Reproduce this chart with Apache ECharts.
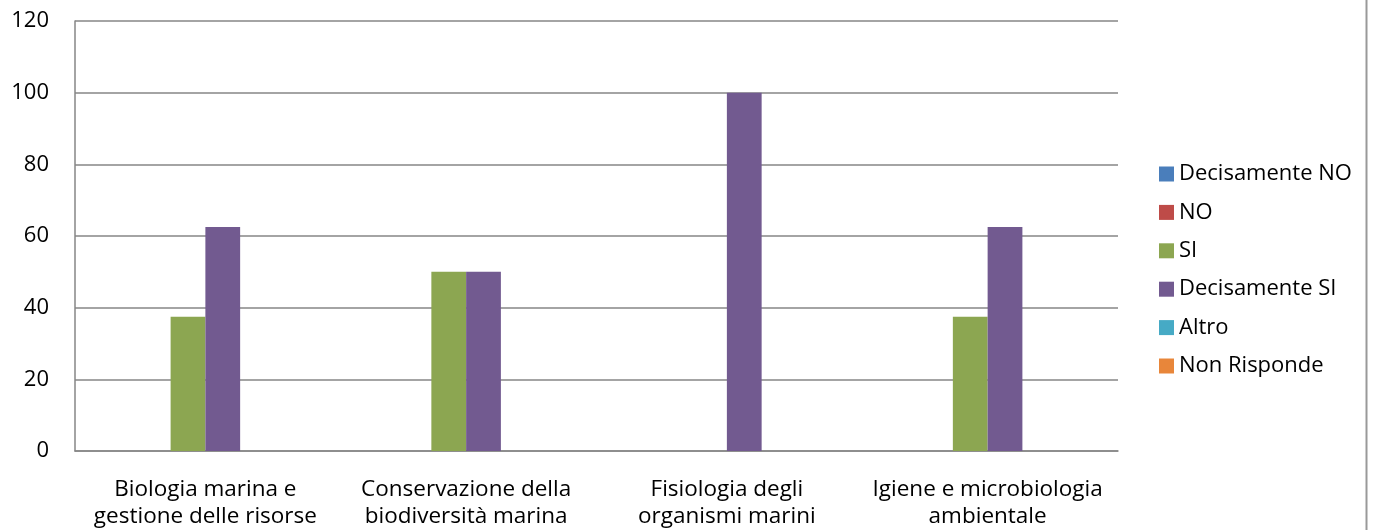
<!DOCTYPE html>
<html>
<head>
<meta charset="utf-8">
<style>
  html, body { margin: 0; padding: 0; background: #fff; }
  #chart { width: 1373px; height: 530px; }
</style>
<script src="https://cdn.jsdelivr.net/npm/echarts@6/dist/echarts.min.js"></script>
</head>
<body>
<div id="chart"></div>
<script>
// dati del grafico
var categories = [
  'Biologia marina e\ngestione delle risorse',
  'Conservazione della\nbiodiversità marina',
  'Fisiologia degli\norganismi marini',
  'Igiene e microbiologia\nambientale'
]
var seriesNames = ['Decisamente NO', 'NO', 'SI', 'Decisamente SI', 'Altro', 'Non Risponde']
var decisamenteNo = [0, 0, 0, 0]
var no = [0, 0, 0, 0]
var si = [37.5, 50, 0, 37.5]
var decisamenteSi = [62.5, 50, 100, 62.5]
var altro = [0, 0, 0, 0]
var nonRisponde = [0, 0, 0, 0]
var yTicks = [0, 20, 40, 60, 80, 100, 120]

var colors = ['#4A7EBB', '#BE4B48', '#8CA651', '#725A90', '#46AAC5', '#E8863A']
var values = [decisamenteNo, no, si, decisamenteSi, altro, nonRisponde]
var font = 'Open Sans'

var myChart = echarts.init(document.getElementById('chart'))
myChart.setOption({
  animation: false,
  color: colors,
  textStyle: { fontFamily: font },
  grid: {
    left: 75,
    right: 255,
    top: 21,
    bottom: 79,
    containLabel: false
  },
  legend: {
    orient: 'vertical',
    left: 1154,
    top: 158,
    itemWidth: 15,
    itemHeight: 15,
    itemGap: 16.4,
    icon: 'rect',
    textStyle: { fontFamily: font, fontSize: 22, color: '#000' },
    data: seriesNames
  },
  xAxis: {
    type: 'category',
    data: categories,
    axisTick: { show: false },
    axisLine: { lineStyle: { color: '#868686', width: 1.5 } },
    axisLabel: {
      color: '#000',
      fontFamily: font,
      fontSize: 22.5,
      lineHeight: 27,
      margin: 25,
      interval: 0
    }
  },
  yAxis: {
    type: 'value',
    min: yTicks[0],
    max: yTicks[yTicks.length - 1],
    interval: yTicks[1] - yTicks[0],
    axisLine: { show: true, lineStyle: { color: '#868686', width: 1.5 } },
    axisTick: { show: false },
    splitLine: { lineStyle: { color: '#868686', width: 1.5 } },
    axisLabel: { color: '#000', fontFamily: font, fontSize: 22, margin: 26 }
  },
  graphic: [{
    type: 'line',
    shape: { x1: 1366.5, y1: 0, x2: 1366.5, y2: 530 },
    style: { stroke: '#999', lineWidth: 2 }
  }],
  series: seriesNames.map(function (name, i) {
    return {
      name: name,
      type: 'bar',
      data: values[i],
      barGap: '0%',
      barCategoryGap: '20%'
    }
  })
})
</script>
</body>
</html>
